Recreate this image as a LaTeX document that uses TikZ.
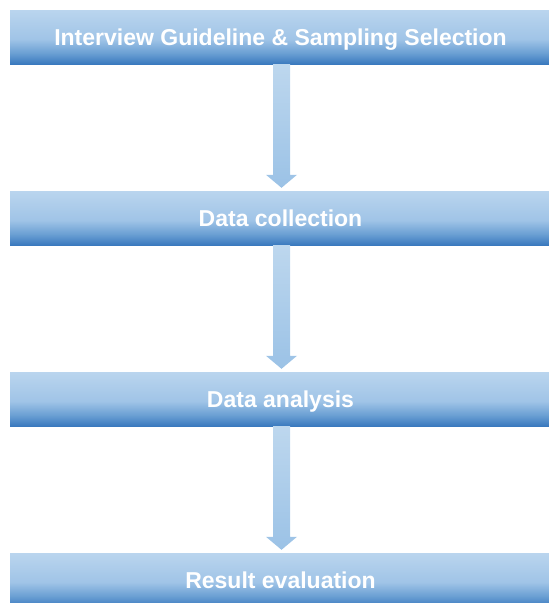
\documentclass[tikz,border=0pt]{standalone}
\usepackage{fontspec}
\setmainfont{Liberation Sans}
\usetikzlibrary{calc}

\definecolor{boxlight}{HTML}{BAD5EE}
\definecolor{boxmid}{HTML}{A0C4E7}
\definecolor{boxlow}{HTML}{6A9FD3}
\definecolor{boxdark}{HTML}{3A79BE}
\definecolor{arrowtop}{HTML}{BDD7EE}
\definecolor{arrowbot}{HTML}{9BC2E6}

% vertical gradient of the step boxes (0bp = bottom)
\pgfdeclareverticalshading{stepshade}{100bp}{%
  color(0bp)=(boxdark); color(25bp)=(boxdark); color(35bp)=(boxlow);
  color(48bp)=(boxmid); color(75bp)=(boxlight); color(100bp)=(boxlight)}

\tikzset{
  stepbox/.style={shading=stepshade, minimum width=541pt, minimum height=54pt,
    inner sep=0pt, text=white, text height=16.6pt, text depth=0pt,
    font=\bfseries\fontsize{23}{26}\selectfont},
  flowarrow/.style={top color=arrowtop, bottom color=arrowbot, draw=none},
}

\begin{document}
\begin{tikzpicture}[x=1pt,y=-1pt]
  \useasboundingbox (0,0) rectangle (549,603);
  \clip (0,0) rectangle (549,603);

  \node[stepbox] (s1) at (280.5,37)  {Interview Guideline \& Sampling Selection};
  \node[stepbox] (s2) at (280.5,218) {Data collection};
  \node[stepbox] (s3) at (280.5,399) {Data analysis};
  \node[stepbox] (s4) at (280.5,580) {Result evaluation};

  % block arrows between consecutive steps
  \foreach \a/\b in {s1/s2, s2/s3, s3/s4} {
    \path[flowarrow]
      let \p1 = (\a.south), \p2 = (\b.north) in
      (281.5-8.5, \y1) -- (281.5+8.5, \y1) -- (281.5+8.5, \y2+16) --
      (281.5+15.5, \y2+16) -- (281.5, \y2+3) -- (281.5-15.5, \y2+16) --
      (281.5-8.5, \y2+16) -- cycle;
  }
\end{tikzpicture}
\end{document}
